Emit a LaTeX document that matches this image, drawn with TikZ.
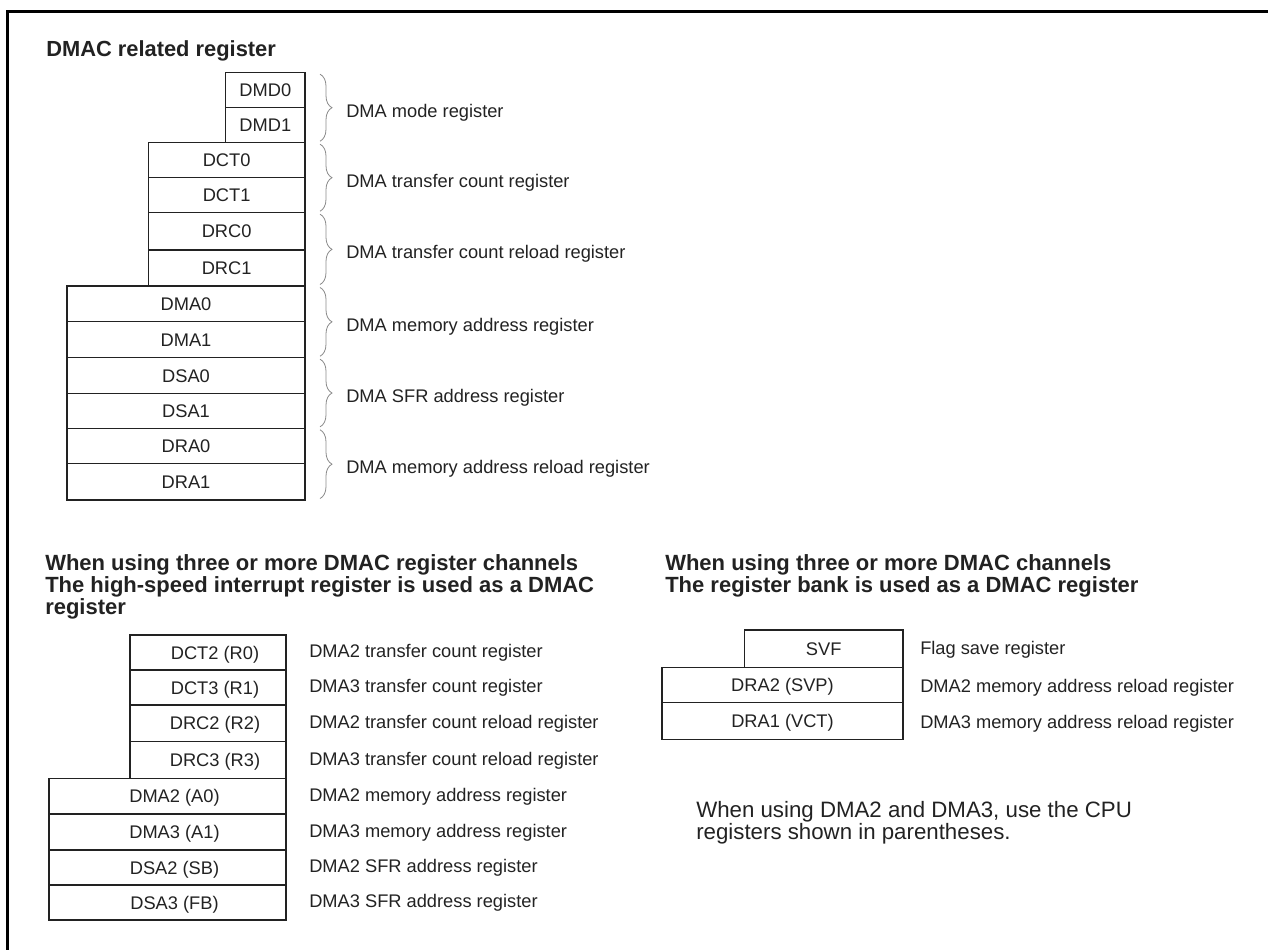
\documentclass[tikz,border=0pt]{standalone}
\usepackage{fontspec}
\setmainfont{Liberation Sans}
\usetikzlibrary{decorations.pathreplacing}
\definecolor{ink}{HTML}{222222}
\definecolor{bracegray}{HTML}{8A8A8A}
\tikzset{
  regbox/.style={draw=ink, line width=1pt, inner sep=0pt, outer sep=0pt,
    font=\fontsize{13.7}{16}\selectfont, text=ink, text height=9.8pt, text depth=0pt},
  brc/.style={draw=bracegray, line width=0.6pt, decorate,
    decoration={brace, amplitude=9pt}},
  lbl/.style={anchor=base west, inner sep=0pt, font=\fontsize{13.7}{16}\selectfont, text=ink},
  hd/.style={anchor=north west, inner sep=0pt, align=left,
    font=\bfseries\fontsize{16.5}{16.5}\selectfont, text=ink},
  notetext/.style={anchor=north west, inner sep=0pt, align=left,
    font=\fontsize{16.7}{16.5}\selectfont, text=ink},
  frameline/.style={draw=black, line width=2.25pt}
}
\newcommand{\sh}{\hspace*{10.5pt}}
% box from left/top/right/bottom given in pixels
\newcommand{\mkbox}[6]{%
  \pgfmathsetmacro\rbcx{(#2+#4)/2}%
  \pgfmathsetmacro\rbcy{(#3+#5)/2}%
  \pgfmathsetmacro\rbw{(#4-#2)*0.75}%
  \pgfmathsetmacro\rbh{(#5-#3)*0.75}%
  \node[regbox, minimum width=\rbw pt, minimum height=\rbh pt] (#1) at (\rbcx,\rbcy) {#6};%
}
\begin{document}
\begin{tikzpicture}[x=0.75pt,y=-0.75pt]
\useasboundingbox (0,0) rectangle (1268,950);
% frame
\coordinate (fbl) at (7,950);
\coordinate (ftl) at (7,11);
\coordinate (ftr) at (1268,11);
\draw[frameline] (fbl) -- (ftl) -- (ftr);

% ---------- top section ----------
\node[anchor=base west, inner sep=0pt, font=\bfseries\fontsize{16.4}{19}\selectfont, text=ink] (title) at (46,56.5) {DMAC related register};

\mkbox{dmd0}{225.7}{72.7}{305}{107.3}{DMD0}
\mkbox{dmd1}{225.7}{107.3}{305}{142.7}{DMD1}
\mkbox{dct0}{148.3}{142.7}{305}{177.3}{DCT0}
\mkbox{dct1}{148.3}{177.3}{305}{212.7}{DCT1}
\mkbox{drc0}{148.3}{212.7}{305}{250}{DRC0}
\mkbox{drc1}{148.3}{250}{305}{286}{DRC1}
\mkbox{dma0}{67}{286}{305}{321.3}{DMA0}
\mkbox{dma1}{67}{321.3}{305}{357.7}{DMA1}
\mkbox{dsa0}{67}{357.7}{305}{393.3}{DSA0}
\mkbox{dsa1}{67}{393.3}{305}{428.3}{DSA1}
\mkbox{dra0}{67}{428.3}{305}{463.3}{DRA0}
\mkbox{dra1}{67}{463.3}{305}{500}{DRA1}

\draw[brc] ([xshift=11.25pt,yshift=-1.1pt]dmd0.north east) -- ([xshift=11.25pt,yshift=1.1pt]dmd1.south east);
\draw[brc] ([xshift=11.25pt,yshift=-1.1pt]dct0.north east) -- ([xshift=11.25pt,yshift=1.1pt]dct1.south east);
\draw[brc] ([xshift=11.25pt,yshift=-1.1pt]drc0.north east) -- ([xshift=11.25pt,yshift=1.1pt]drc1.south east);
\draw[brc] ([xshift=11.25pt,yshift=-1.1pt]dma0.north east) -- ([xshift=11.25pt,yshift=1.1pt]dma1.south east);
\draw[brc] ([xshift=11.25pt,yshift=-1.1pt]dsa0.north east) -- ([xshift=11.25pt,yshift=1.1pt]dsa1.south east);
\draw[brc] ([xshift=11.25pt,yshift=-1.1pt]dra0.north east) -- ([xshift=11.25pt,yshift=1.1pt]dra1.south east);

\node[lbl] (lb1) at (346,117.2) {DMA mode register};
\node[lbl] (lb2) at (346,187.2) {DMA transfer count register};
\node[lbl] (lb3) at (346,258.9) {DMA transfer count reload register};
\node[lbl] (lb4) at (346,331.3) {DMA memory address register};
\node[lbl] (lb5) at (346,402.5) {DMA SFR address register};
\node[lbl] (lb6) at (346,473.7) {DMA memory address reload register};

% ---------- bottom left ----------
\node[hd] (hdl) at (45,554.2) {When using three or more DMAC register channels\\The high-speed interrupt register is used as a DMAC\\register};

\mkbox{dct2}{130}{635}{286}{670}{\sh DCT2 (R0)}
\mkbox{dct3}{130}{670}{286}{705}{\sh DCT3 (R1)}
\mkbox{drc2}{130}{705}{286}{741.7}{\sh DRC2 (R2)}
\mkbox{drc3}{130}{741.7}{286}{778.3}{\sh DRC3 (R3)}
\mkbox{dma2}{49}{778.3}{286}{814}{\sh DMA2 (A0)}
\mkbox{dma3}{49}{814}{286}{850}{\sh DMA3 (A1)}
\mkbox{dsa2}{49}{850}{286}{885}{\sh DSA2 (SB)}
\mkbox{dsa3}{49}{885}{286}{920}{\sh DSA3 (FB)}

\node[lbl] (bl1) at (309,657.5) {DMA2 transfer count register};
\node[lbl] (bl2) at (309,692.5) {DMA3 transfer count register};
\node[lbl] (bl3) at (309,728.3) {DMA2 transfer count reload register};
\node[lbl] (bl4) at (309,765) {DMA3 transfer count reload register};
\node[lbl] (bl5) at (309,801.1) {DMA2 memory address register};
\node[lbl] (bl6) at (309,837) {DMA3 memory address register};
\node[lbl] (bl7) at (309,872.5) {DMA2 SFR address register};
\node[lbl] (bl8) at (309,907.5) {DMA3 SFR address register};

% ---------- bottom right ----------
\node[hd] (hdr) at (665,554.2) {When using three or more DMAC channels\\The register bank is used as a DMAC register};

\mkbox{svf}{744.5}{630}{903}{667.3}{SVF}
\mkbox{dra2}{662}{667.3}{903}{702.7}{DRA2 (SVP)}
\mkbox{dra1v}{662}{702.7}{903}{739.3}{DRA1 (VCT)}

\node[lbl] (br1) at (920,654.5) {Flag save register};
\node[lbl] (br2) at (920,692) {DMA2 memory address reload register};
\node[lbl] (br3) at (920,728.5) {DMA3 memory address reload register};

\node[notetext] (note) at (696,801) {When using DMA2 and DMA3, use the CPU\\registers shown in parentheses.};
\end{tikzpicture}
\end{document}
